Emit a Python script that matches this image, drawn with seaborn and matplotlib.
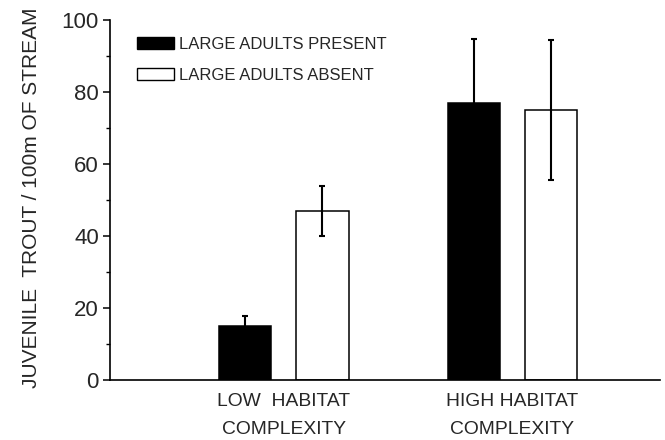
import matplotlib
matplotlib.use("Agg")
import matplotlib.pyplot as plt
from matplotlib.patches import Patch
from matplotlib.ticker import MultipleLocator
import pandas as pd
import seaborn as sns

# Juvenile trout density by habitat complexity and presence of large adults
habitats = ["LOW  HABITAT\nCOMPLEXITY", "HIGH HABITAT\nCOMPLEXITY"]
groups = ["LARGE ADULTS PRESENT", "LARGE ADULTS ABSENT"]
present_mean = [15, 77]
present_err = [2.8, 17.6]
absent_mean = [47, 75]
absent_err = [7.0, 19.5]

df = pd.DataFrame({
    "habitat": habitats * 2,
    "group": [groups[0]] * 2 + [groups[1]] * 2,
    "density": present_mean + absent_mean,
})
errors = [present_err, absent_err]

sns.set_style("ticks")
plt.rcParams["font.family"] = ["Liberation Sans", "DejaVu Sans"]

fig = plt.figure(figsize=(6.65, 4.4), dpi=100)
ax = fig.add_axes([0.1654, 0.1364, 0.827, 0.818])

sns.barplot(
    data=df, x="habitat", y="density", hue="group",
    order=habitats, hue_order=groups,
    palette=["black", "white"], edgecolor="black", linewidth=1.1,
    width=0.676, gap=0.32, errorbar=None, legend=False, ax=ax,
)

# error bars centred on each drawn bar
for container, errs in zip(ax.containers, errors):
    for bar, e in zip(container, errs):
        cx = bar.get_x() + bar.get_width() / 2
        ax.errorbar(cx, bar.get_height(), yerr=e, fmt="none",
                    ecolor="black", elinewidth=1.5, capsize=2.5,
                    capthick=1.5, zorder=3)

ax.set_xlim(-0.76, 1.645)
ax.set_ylim(0, 100)
ax.yaxis.set_major_locator(MultipleLocator(20))
ax.yaxis.set_minor_locator(MultipleLocator(10))
ax.tick_params(axis="y", which="major", length=5, width=1.1,
               labelsize=16, pad=3, color="black")
ax.tick_params(axis="y", which="minor", length=3, width=1.0, color="black")
ax.tick_params(axis="x", length=0, pad=9.5, labelsize=13.9)

ax.set_xlabel("")
ax.set_ylabel("JUVENILE  TROUT / 100m OF STREAM", fontsize=15)
ax.yaxis.set_label_coords(-0.125, 0.505)

for side in ["top", "right"]:
    ax.spines[side].set_visible(False)
for side in ["left", "bottom"]:
    ax.spines[side].set_linewidth(1.2)
    ax.spines[side].set_color("black")

handles = [
    Patch(facecolor="black", edgecolor="black", linewidth=1.0, label=groups[0]),
    Patch(facecolor="white", edgecolor="black", linewidth=1.0, label=groups[1]),
]
ax.legend(handles=handles, loc="upper left", bbox_to_anchor=(0.049, 0.954),
          frameon=False, fontsize=12, handlelength=2.2, handleheight=0.7,
          handletextpad=0.35, labelspacing=0.99, borderpad=0, borderaxespad=0)

# wider gap between the two lines of each category label
fig.canvas.draw()
for tick in ax.xaxis.get_major_ticks():
    tick.label1.set_linespacing(1.85)

fig.savefig("out.png", dpi=100)
